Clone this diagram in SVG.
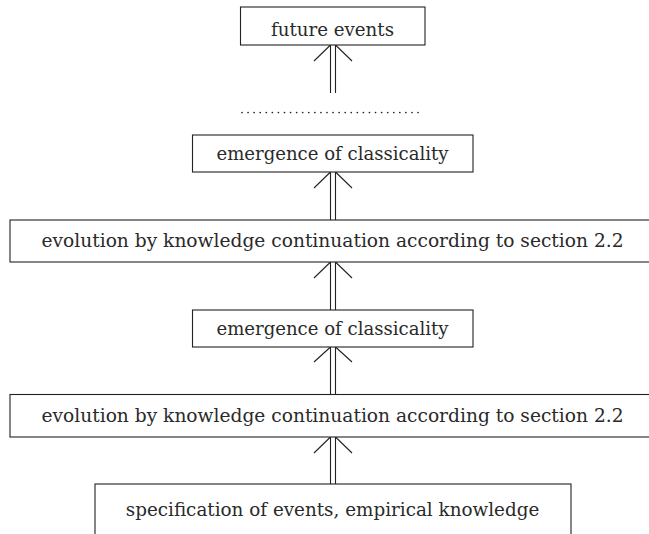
<svg xmlns="http://www.w3.org/2000/svg" width="649" height="534" viewBox="0 0 649 534">
<style>
.box{fill:#fff;stroke:#222;stroke-width:1.1}
.lbl{font-family:'DejaVu Serif',serif;font-size:18px;fill:#2a2a2a;text-anchor:middle}
.shaft{stroke:#222;stroke-width:1.1;fill:none}
</style>
<rect width="649" height="534" fill="#fff"/>
<g id="connectors">
  <path class="shaft" d="M330.5,484 V437 M335.5,484 V437 M330.5,437 L314,453 M335.5,437 L352,453"/>
  <path class="shaft" d="M330.5,394 V347 M335.5,394 V347 M330.5,347 L314,362 M335.5,347 L352,362"/>
  <path class="shaft" d="M330.5,310 V262 M335.5,310 V262 M330.5,262 L314,278 M335.5,262 L352,278"/>
  <path class="shaft" d="M330.5,220 V172 M335.5,220 V172 M330.5,172 L314,188 M335.5,172 L352,188"/>
  <path class="shaft" d="M330.5,93 V45 M335.5,93 V45 M330.5,45 L314,61 M335.5,45 L352,61"/>
</g>
<g id="dots">
  <line x1="242" y1="112.5" x2="424" y2="112.5" stroke="#222" stroke-width="1.7" stroke-linecap="round" stroke-dasharray="0 6.07"/>
</g>
<g id="future-events">
  <rect class="box" x="240.5" y="7" width="184.5" height="38"/>
  <text class="lbl" x="332.5" y="35.5" textLength="123" lengthAdjust="spacingAndGlyphs">future events</text>
</g>
<g id="emergence-1">
  <rect class="box" x="192.5" y="135" width="280.5" height="37"/>
  <text class="lbl" x="332.5" y="160" textLength="232" lengthAdjust="spacingAndGlyphs">emergence of classicality</text>
</g>
<g id="evolution-1">
  <rect class="box" x="10" y="220" width="646" height="42"/>
  <text class="lbl" x="332.5" y="247" textLength="582" lengthAdjust="spacingAndGlyphs">evolution by knowledge continuation according to section 2.2</text>
</g>
<g id="emergence-2">
  <rect class="box" x="192.5" y="310" width="280.5" height="37"/>
  <text class="lbl" x="332.5" y="335" textLength="232" lengthAdjust="spacingAndGlyphs">emergence of classicality</text>
</g>
<g id="evolution-2">
  <rect class="box" x="10" y="394.5" width="646" height="42.5"/>
  <text class="lbl" x="332.5" y="421.5" textLength="582" lengthAdjust="spacingAndGlyphs">evolution by knowledge continuation according to section 2.2</text>
</g>
<g id="specification">
  <rect class="box" x="95" y="484" width="476" height="70"/>
  <text class="lbl" x="332.5" y="516" textLength="413.5" lengthAdjust="spacingAndGlyphs">specification of events, empirical knowledge</text>
</g>
</svg>
